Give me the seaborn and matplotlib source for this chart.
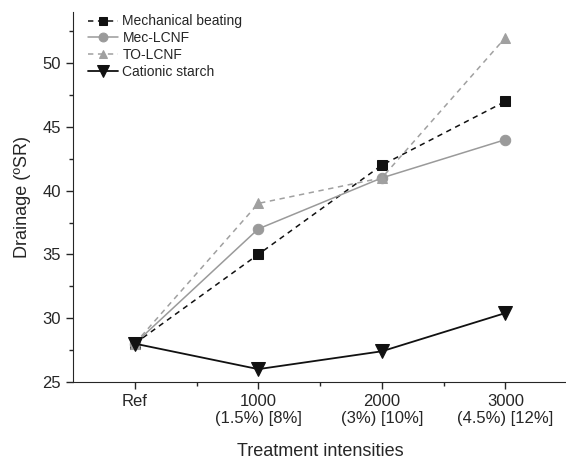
import numpy as np
import pandas as pd
import matplotlib.pyplot as plt
import seaborn as sns

# Data
categories = ['Ref', '1000\n(1.5%) [8%]', '2000\n(3%) [10%]', '3000\n(4.5%) [12%]']
mechanical = [28, 35, 42, 47]
mec_lcnf = [28, 37, 41, 44]
to_lcnf = [28, 39, 41, 52]
starch = [28, 26, 27.4, 30.4]

df = pd.DataFrame({
    'x': list(range(len(categories))) * 4,
    'value': mechanical + mec_lcnf + to_lcnf + starch,
    'series': (['Mechanical beating'] * 4 + ['Mec-LCNF'] * 4 +
               ['TO-LCNF'] * 4 + ['Cationic starch'] * 4),
})

sns.set_style('ticks')
plt.rcParams['font.family'] = ['Liberation Sans', 'DejaVu Sans']

fig = plt.figure(figsize=(5.66, 4.68), dpi=100)
ax = fig.add_axes([0.129, 0.184, 0.873, 0.79])

styles = {
    'Mechanical beating': dict(color='#111111', marker='s', ls=(0, (3.5, 3)), ms=7.5, lw=1.1),
    'Mec-LCNF': dict(color='#9a9a9a', marker='o', ls='-', ms=7.5, lw=1.1),
    'TO-LCNF': dict(color='#a0a0a0', marker='^', ls=(0, (3.5, 3)), ms=7.5, lw=1.1),
    'Cationic starch': dict(color='#111111', marker='v', ls='-', ms=10, lw=1.3),
}
for name, st in styles.items():
    sub = df[df['series'] == name]
    sns.lineplot(data=sub, x='x', y='value', ax=ax, label=name,
                 color=st['color'], marker=st['marker'], linestyle=st['ls'],
                 markersize=st['ms'], linewidth=st['lw'],
                 markeredgecolor=st['color'])

ax.set_xlim(-0.5, 3.5)
ax.set_ylim(25, 54)
ax.set_xticks(range(len(categories)))
ax.set_xticklabels(categories, fontsize=12)
ax.set_xticks([0.5, 1.5, 2.5], minor=True)
ax.set_yticks([25, 30, 35, 40, 45, 50])
ax.set_yticks(np.arange(27.5, 54, 5), minor=True)
ax.tick_params(axis='y', labelsize=12)
ax.tick_params(which='both', direction='out', length=5, width=1)
ax.tick_params(which='minor', length=3)
ax.set_xlabel('Treatment intensities', fontsize=13, labelpad=12)
ax.set_ylabel('Drainage (ºSR)', fontsize=13, labelpad=8)
sns.despine(ax=ax)

ax.legend(loc='upper left', bbox_to_anchor=(0.01, 1.02), frameon=False,
          fontsize=10, handlelength=2.2, handletextpad=0.3, labelspacing=0.2,
          borderaxespad=0.3, markerscale=0.85)

plt.savefig('out.png', dpi=100)
